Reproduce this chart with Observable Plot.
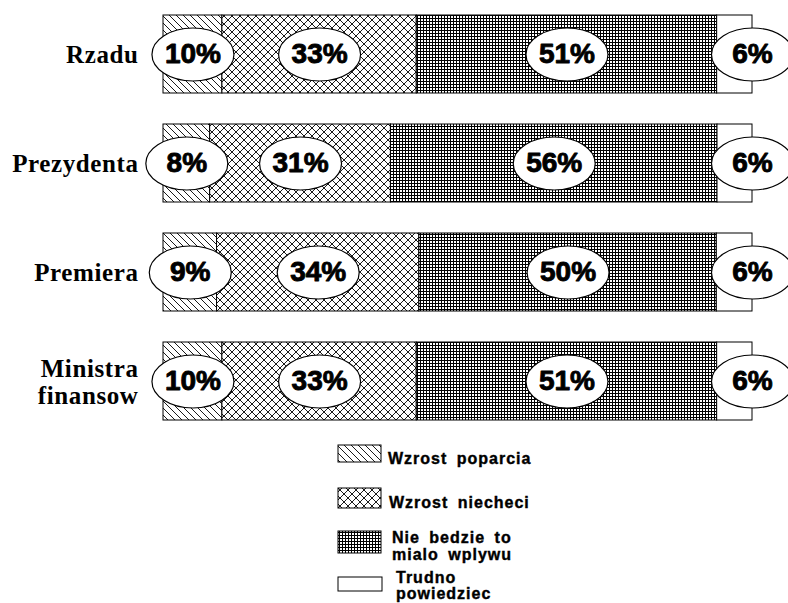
<!DOCTYPE html>
<html><head><meta charset="utf-8">
<script src="https://cdn.jsdelivr.net/npm/d3@7"></script>
<script src="https://cdn.jsdelivr.net/npm/@observablehq/plot@0.6"></script>
<style>
body{margin:0;background:#fff;width:788px;height:603px;overflow:hidden;position:relative;}
#chart{position:absolute;left:0;top:0;}
#legend{position:absolute;left:0;top:430px;}
.ylab text{letter-spacing:0.6px;}
</style></head><body>
<div id="chart"></div>
<svg id="legend" width="788" height="173"></svg>
<script>
const categories = ["Rzadu", "Prezydenta", "Premiera", "Ministra finansow"];
const seriesNames = ["Wzrost poparcia", "Wzrost niecheci", "Nie bedzie to mialo wplywu", "Trudno powiedziec"];
const wzrostPoparcia = [10, 8, 9, 10];
const wzrostNiecheci = [33, 31, 34, 33];
const nieBedzie = [51, 56, 50, 51];
const trudno = [6, 6, 6, 6];
const legendLines = [["Wzrost poparcia"], ["Wzrost niecheci"], ["Nie bedzie to", "mialo wplywu"], ["Trudno", "powiedziec"]];

const seriesValues = [wzrostPoparcia, wzrostNiecheci, nieBedzie, trudno];
const patternIds = ["pDiag", "pCross", "pGrid", "pWhite"];

const rows = [];
categories.forEach((cat, i) => {
  const total = d3.sum(seriesValues, s => s[i]);
  let cum = 0;
  seriesValues.forEach((s, j) => {
    const v = s[i];
    const x1 = cum / total, x2 = (cum + v) / total;
    cum += v;
    rows.push({cat, series: seriesNames[j], value: v, x1, x2, lx: j === 3 ? x2 : (x1 + x2) / 2});
  });
});

const ellipse = {
  draw(ctx) {
    const rx = 41, ry = 26.5, k = 0.5523;
    ctx.moveTo(rx, 0);
    ctx.bezierCurveTo(rx, ry * k, rx * k, ry, 0, ry);
    ctx.bezierCurveTo(-rx * k, ry, -rx, ry * k, -rx, 0);
    ctx.bezierCurveTo(-rx, -ry * k, -rx * k, -ry, 0, -ry);
    ctx.bezierCurveTo(rx * k, -ry, rx, -ry * k, rx, 0);
    ctx.closePath();
  }
};

function addPatterns(svg) {
  const defs = svg.insert("defs", ":first-child");
  const d = defs.append("pattern").attr("id", "pDiag").attr("patternUnits", "userSpaceOnUse").attr("width", 7).attr("height", 7);
  d.append("rect").attr("width", 7).attr("height", 7).attr("fill", "white");
  d.append("path").attr("d", "M-1,-1L8,8M-4,3L1,8M3,-4L8,1").attr("stroke", "black").attr("stroke-width", 0.9);
  const c = defs.append("pattern").attr("id", "pCross").attr("patternUnits", "userSpaceOnUse").attr("width", 8).attr("height", 8);
  c.append("rect").attr("width", 8).attr("height", 8).attr("fill", "white");
  c.append("path").attr("d", "M-1,-1L9,9M-1,9L9,-1").attr("stroke", "black").attr("stroke-width", 0.9);
  const g = defs.append("pattern").attr("id", "pGrid").attr("patternUnits", "userSpaceOnUse").attr("width", 3).attr("height", 3);
  g.append("rect").attr("width", 3).attr("height", 3).attr("fill", "white");
  g.append("rect").attr("width", 3).attr("height", 1).attr("fill", "black");
  g.append("rect").attr("width", 1).attr("height", 3).attr("fill", "black");
  const w = defs.append("pattern").attr("id", "pWhite").attr("patternUnits", "userSpaceOnUse").attr("width", 4).attr("height", 4);
  w.append("rect").attr("width", 4).attr("height", 4).attr("fill", "white");
}

const plot = Plot.plot({
  width: 788,
  height: 431,
  marginLeft: 163,
  marginRight: 36,
  marginTop: 9,
  marginBottom: 5,
  style: {background: "white", color: "black"},
  x: {domain: [0, 1], axis: null},
  y: {domain: categories, paddingInner: 0.285, paddingOuter: 0.05, axis: null},
  color: {type: "ordinal", domain: seriesNames, range: patternIds.map(id => `url(#${id})`)},
  marks: [
    Plot.barX(rows, {x1: "x1", x2: "x2", y: "cat", fill: "series", stroke: "black", strokeWidth: 1}),
    Plot.axisY({tickSize: 0, tickPadding: 25, fontSize: 25, fontFamily: "Liberation Serif", fontWeight: "bold",
      lineHeight: 1.08, label: null, className: "ylab", tickFormat: d => d.replace(" ", "\n")}),
    Plot.dot(rows, {x: "lx", y: "cat", symbol: ellipse, r: 5, fill: "white", stroke: "black", strokeWidth: 1.2}),
    Plot.text(rows, {x: "lx", y: "cat", text: d => d.value + "%", fontSize: 28, fontWeight: "bold",
      fontFamily: "Liberation Sans", fill: "black", stroke: "black", strokeWidth: 0.9})
  ]
});
document.getElementById("chart").appendChild(plot);
addPatterns(d3.select(plot));

// legend
const leg = d3.select("#legend");
addPatterns(leg);
const top0 = 430;
const swatches = [
  {x: 338, y: 445, w: 43, h: 17, tx: 388, ty: [464]},
  {x: 338, y: 488, w: 43, h: 20, tx: 389, ty: [508]},
  {x: 338, y: 531, w: 43, h: 22, tx: 392, ty: [543, 560]},
  {x: 338, y: 577, w: 44, h: 14, tx: 396, ty: [583, 599]}
];
swatches.forEach((s, i) => {
  leg.append("rect").attr("x", s.x).attr("y", s.y - top0).attr("width", s.w).attr("height", s.h)
    .attr("fill", `url(#${patternIds[i]})`).attr("stroke", "black").attr("stroke-width", 1);
  legendLines[i].forEach((line, k) => {
    leg.append("text").attr("x", s.tx).attr("y", s.ty[k] - top0).text(line)
      .attr("font-family", "Liberation Sans").attr("font-weight", "bold").attr("font-size", 16)
      .attr("letter-spacing", "1px").attr("word-spacing", "4px")
      .attr("fill", "black").attr("stroke", "black").attr("stroke-width", 0.4);
  });
});
</script>
</body></html>
